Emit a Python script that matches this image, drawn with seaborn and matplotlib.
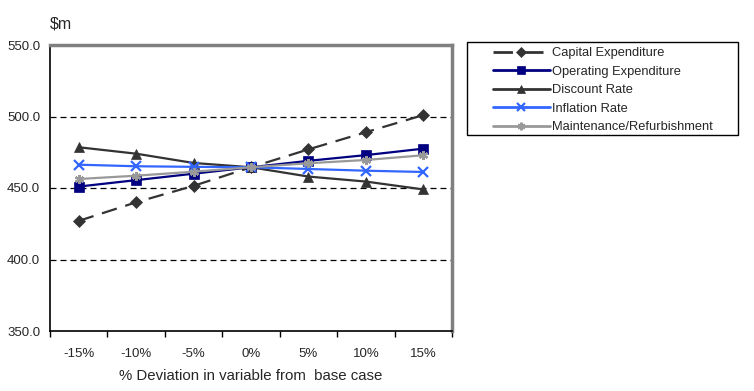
import matplotlib
matplotlib.use("Agg")
import pandas as pd
import seaborn as sns
import matplotlib.pyplot as plt
from matplotlib.patches import Rectangle

categories = ["-15%", "-10%", "-5%", "0%", "5%", "10%", "15%"]
capital = [427.0, 440.0, 451.5, 464.5, 477.0, 489.0, 501.0]
operating = [451.0, 455.5, 460.0, 464.5, 469.0, 473.0, 477.5]
discount = [478.5, 474.0, 467.5, 464.5, 458.0, 454.5, 449.0]
inflation = [466.3, 465.2, 464.8, 464.5, 463.3, 462.1, 461.2]
maintenance = [456.3, 458.6, 461.4, 464.5, 467.3, 469.6, 472.9]

series = [
    ("Capital Expenditure", capital, "#333333", "D", (0, (7, 4))),
    ("Operating Expenditure", operating, "#000080", "s", "-"),
    ("Discount Rate", discount, "#333333", "^", "-"),
    ("Inflation Rate", inflation, "#3366FF", "x", "-"),
    ("Maintenance/Refurbishment", maintenance, "#999999", (6, 2, 0), "-"),
]

sns.set_theme(style="white")
plt.rcParams["font.family"] = ["Liberation Sans", "DejaVu Sans"]

fig = plt.figure(figsize=(7.54, 3.91), dpi=100)
ax = fig.add_axes([50 / 754, 1 - 331 / 391, 402 / 754, 286 / 391])

for name, vals, color, marker, ls in series:
    df = pd.DataFrame({"x": range(len(categories)), "y": vals})
    thin = marker == "x" or isinstance(marker, tuple)
    sns.lineplot(data=df, x="x", y="y", ax=ax, color=color, marker=marker,
                 linestyle=ls, linewidth=1.6, markersize=6.5,
                 markeredgecolor=color, markeredgewidth=1.6 if thin else 0.5,
                 label=name)

ax.set_xlim(-0.5, 6.5)
ax.set_ylim(350, 550)
ax.set_xticks(range(len(categories)))
ax.set_xticklabels(categories, fontsize=9.5)
ax.set_xticks([i - 0.5 for i in range(len(categories) + 1)], minor=True)
ax.tick_params(axis="x", which="major", length=0, pad=12)
ax.tick_params(axis="x", which="minor", length=4, width=1, color="black", direction="out", bottom=True)
ax.set_yticks([350, 400, 450, 500, 550])
ax.set_yticklabels([f"{v:.1f}" for v in [350, 400, 450, 500, 550]], fontsize=9.5)
ax.tick_params(axis="y", length=0, pad=7)

for v in [400, 450, 500]:
    ax.axhline(v, color="black", linestyle=(0, (4.8, 3.2)), linewidth=0.9, zorder=0)

ax.spines["left"].set_color("black")
ax.spines["bottom"].set_color("black")
ax.spines["left"].set_linewidth(1.2)
ax.spines["bottom"].set_linewidth(1.2)
for s in ["top", "right"]:
    ax.spines[s].set_color("#808080")
    ax.spines[s].set_linewidth(2.5)

ax.set_xlabel("% Deviation in variable from  base case", fontsize=10.8, labelpad=7)
ax.set_ylabel("")
fig.text(50 / 754, 1 - 24 / 391, "$m", fontsize=11.5, va="center")

leg = ax.legend(loc="upper left", bbox_to_anchor=(493 / 754, 1 - 47 / 391),
                bbox_transform=fig.transFigure, fontsize=9.3, frameon=False,
                handlelength=4.4, handletextpad=0.2, borderpad=0,
                borderaxespad=0, labelspacing=0.5, markerscale=0.85)
for h in leg.legend_handles:
    h.set_linewidth(2)
fig.patches.append(Rectangle((467 / 754, 1 - 135 / 391), 271 / 754, 93 / 391,
                             transform=fig.transFigure, fill=False,
                             edgecolor="black", linewidth=1))

fig.savefig("out.png", dpi=100)
